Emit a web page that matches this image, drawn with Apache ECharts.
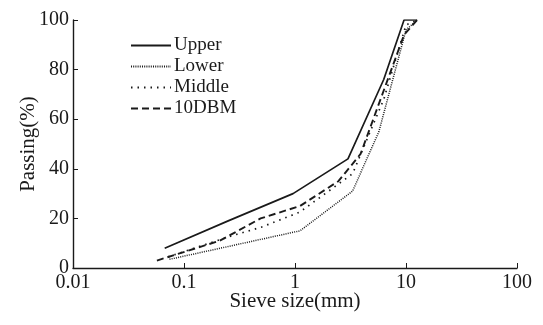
<!DOCTYPE html>
<html>
<head>
<meta charset="utf-8">
<script src="https://cdn.jsdelivr.net/npm/echarts@6/dist/echarts.min.js"></script>
<style>
html,body{margin:0;padding:0;background:#fff;}
#chart{width:543px;height:325px;}
</style>
</head>
<body>
<div id="chart"></div>
<script>
// Sieve sizes (mm) and passing (%)
const upperX = [0.067, 0.25, 0.96, 3.0, 6.3, 9.6, 12.6];
const upperY = [8, 19, 30, 44, 76, 100, 100];

const lowerX = [0.074, 1.11, 3.3, 5.7, 10, 12.6];
const lowerY = [3.5, 15, 31, 55, 96, 100];

const middleX = [0.072, 0.27, 0.5, 1.1, 3.3, 6.3, 10, 12.6];
const middleY = [4.5, 13, 16.5, 22.5, 38, 68, 98, 100];

const dbmX = [0.057, 0.21, 0.49, 1.11, 2.46, 3.9, 9.6, 12.6];
const dbmY = [3, 11, 20, 25, 35, 46, 94, 100];

const seriesNames = ['Upper', 'Lower', 'Middle', '10DBM'];
const xTicks = [0.01, 0.1, 1, 10, 100];
const yTicks = [0, 20, 40, 60, 80, 100];

function pairs(xs, ys) { return xs.map((x, i) => [x, ys[i]]); }

const FONT = 'Liberation Serif';
const INK = '#1a1a1a';

const chart = echarts.init(document.getElementById('chart'), null, {renderer: 'canvas'});
const styles = [
  {type: 'solid', width: 1.7},
  {type: [1, 1.2], width: 1.5},
  {type: [1.5, 5], width: 1.7},
  {type: [7, 4], width: 1.9}
];
const datas = [pairs(upperX, upperY), pairs(lowerX, lowerY), pairs(middleX, middleY), pairs(dbmX, dbmY)];

chart.setOption({
  animation: false,
  backgroundColor: '#fff',
  grid: {left: 73, right: 26, top: 20, bottom: 57, containLabel: false, outerBoundsMode: 'none'},
  legend: {
    orient: 'vertical',
    left: 125, top: 31,
    itemWidth: 40, itemHeight: 14, itemGap: 2,
    data: seriesNames,
    itemStyle: {opacity: 0},
    textStyle: {fontFamily: FONT, fontSize: 19, color: INK, padding: [0, 0, 0, -2]}
  },
  xAxis: {
    type: 'log', logBase: 10, min: xTicks[0], max: xTicks[xTicks.length - 1],
    name: 'Sieve size(mm)', nameLocation: 'middle', nameGap: 23, nameMoveOverlap: false,
    nameTextStyle: {fontFamily: FONT, fontSize: 21, color: INK},
    axisLine: {lineStyle: {color: INK, width: 1.4}},
    axisTick: {inside: true, length: 5, lineStyle: {color: INK}},
    minorTick: {show: false},
    splitLine: {show: false},
    axisLabel: {fontFamily: FONT, fontSize: 20, color: INK, margin: 5,
      formatter: v => { const t = xTicks.find(k => Math.abs(k - v) / k < 1e-6); return t === undefined ? '' : String(t); }}
  },
  yAxis: {
    type: 'value', min: yTicks[0], max: yTicks[yTicks.length - 1], interval: 20,
    name: 'Passing(%)', nameLocation: 'middle', nameGap: 34, nameRotate: 90, nameMoveOverlap: false,
    nameTextStyle: {fontFamily: FONT, fontSize: 21, color: INK},
    axisLine: {show: true, lineStyle: {color: INK, width: 1.4}},
    axisTick: {show: true, inside: true, length: 5, lineStyle: {color: INK}},
    splitLine: {show: false},
    axisLabel: {fontFamily: FONT, fontSize: 20, color: INK, margin: 4}
  },
  series: seriesNames.map((n, i) => ({
    name: n, type: 'line', data: datas[i], showSymbol: false, symbol: 'none',
    lineStyle: Object.assign({color: INK}, styles[i]),
    itemStyle: {color: INK}
  }))
});
</script>
</body>
</html>
